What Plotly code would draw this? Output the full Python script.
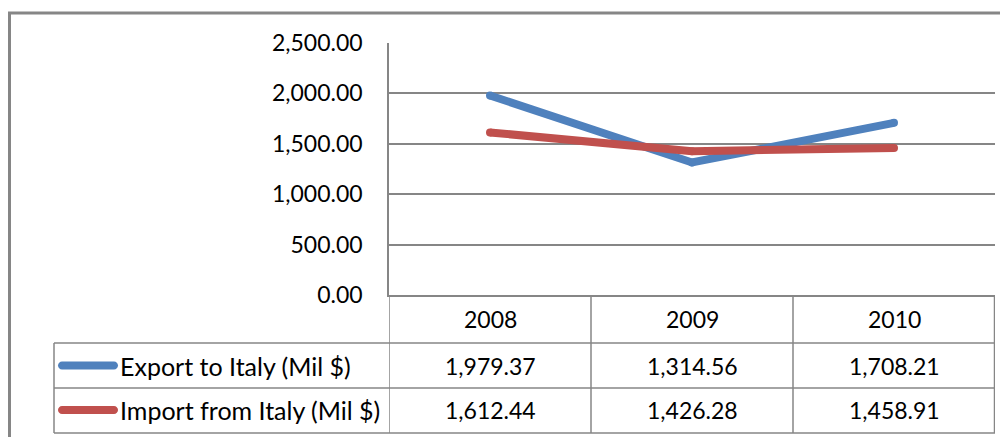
import plotly.graph_objects as go

# ---- data ----
years = ["2008", "2009", "2010"]
export_vals = [1979.37, 1314.56, 1708.21]
import_vals = [1612.44, 1426.28, 1458.91]
series_names = ["Export to Italy (Mil $)", "Import from Italy (Mil $)"]
series_colors = ["#4F81BD", "#C0504D"]
y_ticks = [0, 500, 1000, 1500, 2000, 2500]

OFF = 8  # default page body margin
W, H = 1008 - OFF, 437 - OFF
L, R, T, B = 389 - OFF, 13, 43 - OFF, 142
PW = W - L - R
PH = H - T - B
GRID = "#868686"
FONT = "Lato, 'Liberation Sans', sans-serif"
FS = 23
FS_LABEL = 25


def px(x):
    """page pixel x -> paper"""
    return (x - OFF - L) / PW


def py(y):
    """page pixel y -> paper"""
    return (H - B - (y - OFF)) / PH


fig = go.Figure()
for name, vals, col in zip(series_names, [export_vals, import_vals], series_colors):
    fig.add_trace(go.Scatter(
        x=years, y=vals, name=name, mode="lines+markers",
        line=dict(color=col, width=8),
        marker=dict(color=col, size=8, line=dict(width=0)),
        hoverinfo="skip", showlegend=False,
    ))

shapes = []


def hline(y, x0, x1, w=1.5):
    shapes.append(dict(type="line", xref="paper", yref="paper",
                       x0=px(x0), x1=px(x1), y0=py(y), y1=py(y),
                       line=dict(color=GRID, width=w)))


def vline_data(xd, y0, y1, w=1.5):
    shapes.append(dict(type="line", xref="x", yref="paper",
                       x0=xd, x1=xd, y0=py(y0), y1=py(y1),
                       line=dict(color=GRID, width=w)))


# outer chart border
shapes.append(dict(type="rect", xref="paper", yref="paper",
                   x0=px(9.5), x1=px(1030), y0=py(460), y1=py(13),
                   line=dict(color=GRID, width=3), fillcolor="rgba(0,0,0,0)"))

# data table lines
row_y = [343, 388, 433]
for y in row_y:
    hline(y, 54, 995)
vline_data(-0.5, 295, 433)
vline_data(0.5, 295, 433)
vline_data(1.5, 295, 433)
vline_data(2.5, 295, 433, w=2.5)
shapes.append(dict(type="line", xref="paper", yref="paper",
                   x0=px(54), x1=px(54), y0=py(343), y1=py(433),
                   line=dict(color=GRID, width=1.5)))

# legend keys in table
key_path = ("M -26,-4 L 26,-4 C 28.2,-4 30,-2.2 30,0 C 30,2.2 28.2,4 26,4 "
            "L -26,4 C -28.2,4 -30,2.2 -30,0 C -30,-2.2 -28.2,-4 -26,-4 Z")
row_centers = [365.5, 410]
for col, yc in zip(series_colors, row_centers):
    shapes.append(dict(type="path", xref="paper", yref="paper",
                       xsizemode="pixel", ysizemode="pixel",
                       xanchor=px(88), yanchor=py(yc), path=key_path,
                       fillcolor=col, line=dict(width=0)))

annotations = []
for i, yr in enumerate(years):
    annotations.append(dict(x=i, y=py(319), xref="x", yref="paper",
                            text=yr, showarrow=False, yanchor="middle",
                            font=dict(family=FONT, size=FS, color="#000")))
for name, vals, yc in zip(series_names, [export_vals, import_vals], row_centers):
    annotations.append(dict(x=px(118), y=py(yc), xref="paper", yref="paper",
                            text=name, showarrow=False, xanchor="left",
                            yanchor="middle",
                            font=dict(family=FONT, size=FS_LABEL, color="#000")))
    for i, v in enumerate(vals):
        annotations.append(dict(x=i, y=py(yc), xref="x", yref="paper",
                                text=f"{v:,.2f}", showarrow=False,
                                yanchor="middle",
                                font=dict(family=FONT, size=FS, color="#000")))

fig.update_layout(
    width=W, height=H, autosize=False,
    margin=dict(l=L, r=R, t=T, b=B, pad=0),
    paper_bgcolor="white", plot_bgcolor="white",
    shapes=shapes, annotations=annotations,
    font=dict(family=FONT, size=FS, color="#000"),
    xaxis=dict(type="category", range=[-0.5, 2.5], showticklabels=False,
               showgrid=False, zeroline=False, showline=True,
               linecolor=GRID, linewidth=1.5, ticks="", fixedrange=True),
    yaxis=dict(range=[0, 2500], tickvals=y_ticks, tickformat=",.2f",
               showgrid=True, gridcolor=GRID, gridwidth=1.5,
               zeroline=False, showline=True, linecolor=GRID, linewidth=1.5,
               ticks="", ticklabelstandoff=20, fixedrange=True,
               tickfont=dict(family=FONT, size=FS, color="#000")),
)

fig.write_html("out.html")
